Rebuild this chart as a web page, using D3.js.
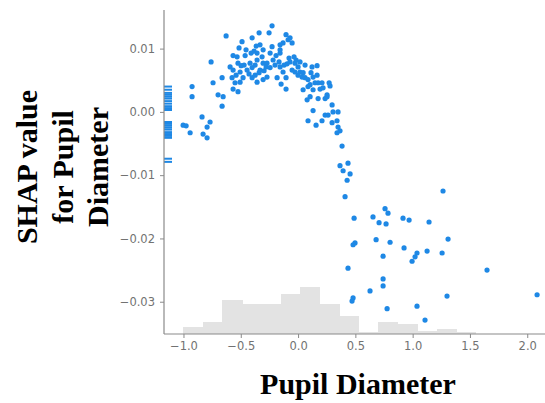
<!DOCTYPE html>
<html lang="en">
<head>
    <meta charset="UTF-8">
    <title>SHAP dependence - Pupil Diameter</title>
    <style>
        body {
            margin: 0;
            background: #fff;
        }
        .tick-label {
            font-family: "DejaVu Sans", sans-serif;
            font-size: 11.5px;
            fill: #727272;
        }
        .axis-title {
            font-family: "Liberation Serif", "Times New Roman", serif;
            font-weight: bold;
            font-size: 30px;
            fill: #000;
        }
    </style>
</head>
<body>

<div id="chart"></div>

<script src="https://d3js.org/d3.v7.min.js"></script>
<script>
    // feature value / shap value pairs
    const points = [
        [-0.227, 0.0136], [-0.628, 0.0120], [-0.340, 0.0125], [-0.253, 0.0125], [-0.401, 0.0117],
        [-0.489, 0.0111], [-0.105, 0.0122], [-0.087, 0.0114], [-0.131, 0.0109], [-0.332, 0.0106],
        [-0.366, 0.0104], [-0.515, 0.0101], [-0.384, 0.0096], [-0.227, 0.0103], [-0.244, 0.0093],
        [-0.759, 0.0079], [-0.567, 0.0089], [-0.532, 0.0087], [-0.462, 0.0089], [-0.410, 0.0093],
        [-0.358, 0.0093], [-0.157, 0.0093], [-0.218, 0.0082], [-0.305, 0.0077], [-0.271, 0.0077],
        [-0.358, 0.0082], [-0.419, 0.0077], [-0.524, 0.0077], [-0.593, 0.0071], [-0.567, 0.0066],
        [-0.506, 0.0063], [-0.332, 0.0066], [-0.297, 0.0065], [-0.201, 0.0074], [-0.157, 0.0071],
        [-0.122, 0.0074], [-0.096, 0.0076], [-0.131, 0.0063], [-0.742, 0.0046], [-0.663, 0.0054],
        [-0.576, 0.0054], [-0.550, 0.0046], [-0.506, 0.0047], [-0.480, 0.0054], [-0.401, 0.0054],
        [-0.375, 0.0058], [-0.340, 0.0062], [-0.271, 0.0055], [-0.183, 0.0054], [-0.567, 0.0036],
        [-0.524, 0.0032], [-0.358, 0.0047], [-0.305, 0.0051], [-0.105, 0.0036], [-0.925, 0.0040],
        [-0.925, 0.0024], [-0.698, 0.0027], [-0.654, 0.0024], [-0.663, 0.0009], [-0.838, -0.0008],
        [-0.768, -0.0016], [-0.794, -0.0024], [-1.003, -0.0021], [-0.977, -0.0022], [-0.942, -0.0033],
        [-0.829, -0.0035], [-0.794, -0.0041], [-0.070, 0.0117], [-0.052, 0.0109], [-0.157, 0.0098],
        [-0.035, 0.0087], [-0.070, 0.0079], [-0.026, 0.0077], [-0.052, 0.0066], [0.000, 0.0071],
        [0.017, 0.0063], [0.044, 0.0062], [0.061, 0.0054], [0.087, 0.0051], [0.105, 0.0043],
        [0.122, 0.0071], [0.166, 0.0073], [0.166, 0.0058], [0.131, 0.0055], [0.087, 0.0040],
        [0.044, 0.0035], [0.148, 0.0046], [0.175, 0.0046], [0.209, 0.0046], [0.271, 0.0046],
        [0.279, 0.0041], [0.131, 0.0035], [0.192, 0.0036], [0.218, 0.0038], [0.079, 0.0019],
        [0.105, 0.0024], [0.175, 0.0021], [0.236, 0.0021], [0.253, 0.0024], [0.253, 0.0027],
        [0.297, 0.0011], [0.131, 0.0002], [0.236, -0.0005], [0.262, -0.0005], [0.305, 0.0000],
        [0.349, 0.0000], [0.087, -0.0014], [0.157, -0.0021], [0.209, -0.0014], [0.297, -0.0017],
        [0.340, -0.0014], [0.349, -0.0024], [0.366, -0.0030], [0.340, -0.0033], [0.384, -0.0054],
        [0.366, -0.0085], [0.436, -0.0081], [0.393, -0.0093], [0.454, -0.0098], [0.428, -0.0108],
        [0.410, -0.0134], [1.265, -0.0125], [0.759, -0.0153], [0.785, -0.0160], [0.654, -0.0166],
        [0.489, -0.0168], [0.707, -0.0175], [0.768, -0.0177], [0.916, -0.0168], [0.969, -0.0171],
        [1.143, -0.0174], [0.681, -0.0202], [0.803, -0.0206], [0.497, -0.0207], [0.480, -0.0210],
        [1.309, -0.0201], [0.925, -0.0215], [1.038, -0.0223], [1.126, -0.0220], [1.257, -0.0223],
        [0.742, -0.0228], [1.021, -0.0229], [0.995, -0.0236], [0.436, -0.0247], [1.649, -0.0250],
        [0.742, -0.0264], [0.742, -0.0275], [0.628, -0.0283], [0.480, -0.0294], [0.471, -0.0299],
        [1.300, -0.0291], [2.086, -0.0289], [0.777, -0.0311], [1.038, -0.0307], [1.108, -0.0329],
        [-0.471, 0.0074], [-0.445, 0.0066], [-0.401, 0.0070], [-0.375, 0.0074], [-0.314, 0.0087],
        [-0.279, 0.0071], [-0.244, 0.0070], [-0.192, 0.0089], [-0.166, 0.0079], [-0.079, 0.0085],
        [-0.017, 0.0082], [0.017, 0.0079], [0.035, 0.0055], [0.000, 0.0058], [-0.105, 0.0054],
        [-0.148, 0.0044], [-0.428, 0.0060], [-0.541, 0.0058], [-0.497, 0.0073], [-0.454, 0.0098],
        [-0.305, 0.0098], [-0.157, 0.0106], [-0.026, 0.0063], [0.061, 0.0074], [0.113, 0.0062]
    ];

    // shap values of rows with a missing pupil diameter (drawn at the left edge)
    const nanShap = [0.0040, 0.0035, 0.0030, 0.0027, 0.0024, 0.0021, 0.0017, 0.0013, 0.0009, 0.0006,
                     0.0003, -0.0016, -0.0019, -0.0022, -0.0025, -0.0028, -0.0032, -0.0035, -0.0038,
                     -0.0041, -0.0074, -0.0079];

    // histogram of the feature (left bin edges + counts)
    const histEdges = [-1.0, -0.83, -0.66, -0.49, -0.32, -0.15, 0.02, 0.19, 0.36, 0.53, 0.70, 0.87, 1.04, 1.21, 1.38];
    const histCounts = [4, 7, 20, 18, 18, 24, 28, 18, 11, 1, 7, 6, 2, 3, 1];
    const binWidth = 0.17;

    const xTicks = [-1.0, -0.5, 0.0, 0.5, 1.0, 1.5, 2.0];
    const yTicks = [0.01, 0.00, -0.01, -0.02, -0.03];

    const width = 545, height = 403;
    const margin = { left: 164, right: 545, top: 10, bottom: 334 };
    const blue = "#1E88E5";

    const svg = d3.select("#chart").append("svg")
        .attr("width", width)
        .attr("height", height);

    const x = d3.scaleLinear().domain([-1.17, 2.155]).range([margin.left, margin.right]);
    const y = d3.scaleLinear().domain([-0.0351, 0.0161]).range([margin.bottom, margin.top]);
    const yHist = d3.scaleLinear().domain([0, 193]).range([margin.bottom, margin.top]);

    // histogram in the background
    svg.append("g").selectAll("rect")
        .data(histEdges)
      .enter().append("rect")
        .attr("x", d => x(d))
        .attr("width", d => x(d + binWidth) - x(d) + 0.6)
        .attr("y", (d, i) => yHist(histCounts[i]))
        .attr("height", (d, i) => margin.bottom - yHist(histCounts[i]))
        .attr("fill", "#e3e3e3")
        .attr("shape-rendering", "crispEdges");

    // missing values as short dashes
    svg.append("g").selectAll("line")
        .data(nanShap)
      .enter().append("line")
        .attr("x1", x(-1.135) - 4)
        .attr("x2", x(-1.135) + 4)
        .attr("y1", d => y(d))
        .attr("y2", d => y(d))
        .attr("stroke", blue)
        .attr("stroke-width", 2);

    // points
    svg.append("g").selectAll("circle")
        .data(points)
      .enter().append("circle")
        .attr("cx", d => x(d[0]))
        .attr("cy", d => y(d[1]))
        .attr("r", 2.6)
        .attr("fill", blue);

    // axes
    const xAxis = d3.axisBottom(x).tickValues(xTicks).tickSize(4).tickPadding(4)
        .tickFormat(d => d3.format(".1f")(d).replace("-", "\u2212"));
    const gx = svg.append("g")
        .attr("transform", "translate(0," + margin.bottom + ")")
        .call(xAxis);

    const yAxis = d3.axisLeft(y).tickValues(yTicks).tickSize(4).tickPadding(5)
        .tickFormat(d => d3.format(".2f")(d).replace("-", "\u2212"));
    const gy = svg.append("g")
        .attr("transform", "translate(" + margin.left + ",0)")
        .call(yAxis);

    [gx, gy].forEach(g => {
        g.attr("font-family", null).attr("font-size", null);
        g.select(".domain").attr("stroke", "#8a8a8a").attr("stroke-width", 1.2);
        g.selectAll(".tick line").attr("stroke", "#8a8a8a");
        g.selectAll(".tick text").attr("class", "tick-label").attr("fill", null);
    });
    gx.select(".domain").attr("d", "M" + margin.left + ",0H" + margin.right);
    gy.select(".domain").attr("d", "M0," + margin.top + "V" + margin.bottom);

    // titles
    svg.append("text")
        .attr("class", "axis-title")
        .attr("x", 358)
        .attr("y", 394)
        .attr("text-anchor", "middle")
        .text("Pupil Diameter");

    const yLines = ["SHAP value", "for Pupil", "Diameter"];
    svg.append("g")
        .attr("transform", "translate(37,167) rotate(-90)")
        .selectAll("text")
        .data(yLines)
      .enter().append("text")
        .attr("class", "axis-title")
        .attr("text-anchor", "middle")
        .attr("x", 0)
        .attr("y", (d, i) => i * 35.5)
        .text(d => d);
</script>

</body>
</html>
